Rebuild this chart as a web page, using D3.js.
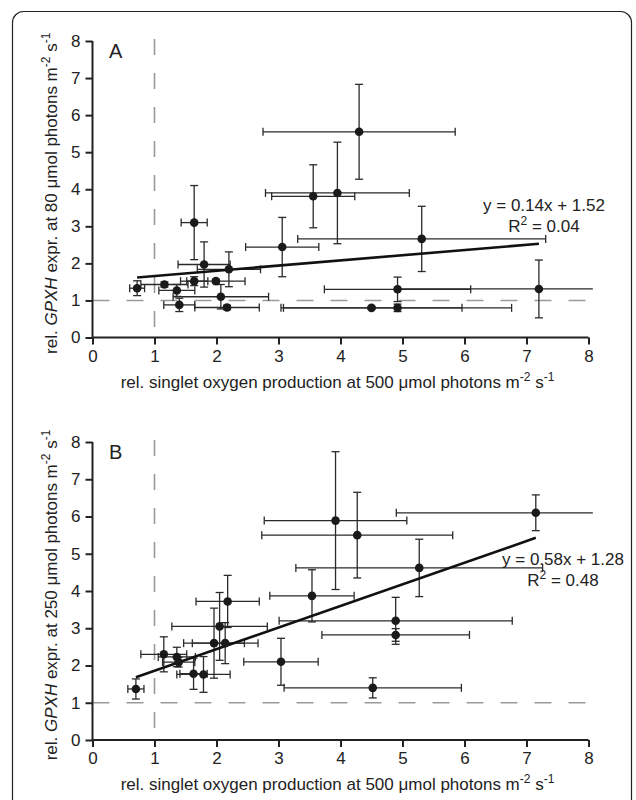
<!DOCTYPE html>
<html>
<head>
<meta charset="utf-8">
<script src="https://cdn.jsdelivr.net/npm/d3@7"></script>
<style>
  body { margin: 0; background: #fff; }
  svg { display: block; font-family: "Liberation Sans", Arial, sans-serif; }
  .tick text { font-size: 17px; fill: #222; font-family: "Liberation Sans", Arial, sans-serif; }
  .axis path, .axis line { stroke: #222; stroke-width: 2px; }
</style>
</head>
<body>
<div id="chart"></div>
<script>
// Panel A: GPXH expression at 80 umol photons (mean, sd)
var a_x = [0.72, 1.16, 1.36, 1.64, 1.99, 1.80, 2.20, 2.07, 1.40, 2.17, 1.64, 4.30, 3.56, 3.95, 3.06, 5.31, 7.20, 4.92, 4.50, 4.92];
var a_y = [1.33, 1.43, 1.27, 1.52, 1.52, 1.97, 1.84, 1.10, 0.88, 0.81, 3.10, 5.55, 3.81, 3.90, 2.44, 2.66, 1.31, 1.30, 0.80, 0.80];
var a_xerr = [0.12, 0.38, 0.29, 0.22, 0.47, 0.42, 0.51, 0.77, 0.25, 0.52, 0.21, 1.55, 0.67, 1.16, 0.59, 2.00, 2.28, 1.18, 1.46, 1.84];
var a_yerr = [0.20, 0.07, 0.16, 0.12, 0.05, 0.61, 0.47, 0.33, 0.18, 0.06, 1.00, 1.28, 0.85, 1.37, 0.80, 0.88, 0.78, 0.33, 0.04, 0.10];

// Panel B: GPXH expression at 250 umol photons (mean, sd)
var b_x = [0.70, 1.15, 1.36, 1.39, 1.63, 1.79, 1.96, 2.14, 2.05, 2.18, 3.04, 4.52, 7.15, 3.92, 4.27, 5.27, 3.54, 4.89, 4.89];
var b_y = [1.37, 2.30, 2.23, 2.09, 1.78, 1.76, 2.60, 2.60, 3.05, 3.72, 2.10, 1.40, 6.10, 5.89, 5.50, 4.62, 3.87, 3.20, 2.82];
var b_xerr = [0.13, 0.37, 0.30, 0.26, 0.22, 0.43, 0.49, 0.53, 0.77, 0.51, 0.60, 1.43, 2.25, 1.15, 1.54, 1.99, 0.68, 1.88, 1.19];
var b_yerr = [0.27, 0.47, 0.26, 0.13, 0.42, 0.48, 0.94, 0.55, 0.91, 0.70, 0.63, 0.27, 0.48, 1.85, 1.15, 0.77, 0.70, 0.63, 0.17];

// Linear fits as printed on the chart
var a_fit = [0.14, 1.52];
var b_fit = [0.58, 1.28];

var x_ticks = [0, 1, 2, 3, 4, 5, 6, 7, 8];
var y_ticks = [0, 1, 2, 3, 4, 5, 6, 7, 8];

(function () {
  "use strict";

  var w = 636, h = 800;
  var left = 92.5, right = 588.5;
  var x_max = 8.07; // error bars are cut just past the end of the axis
  var fs = 17; // main text size
  var fs_sup = 12; // superscripts

  var svg = d3.select("#chart").append("svg")
    .attr("width", w)
    .attr("height", h);

  // Rounded frame (bottom runs off the page)
  svg.append("rect")
    .attr("x", 12.5).attr("y", 11.5)
    .attr("width", 619).attr("height", 820)
    .attr("rx", 11)
    .attr("fill", "none")
    .attr("stroke", "#222")
    .attr("stroke-width", 1.2);

  var x = d3.scaleLinear().domain([0, 8]).range([left, right]);

  // Adds "m-2 s-1" with raised exponents to a text element
  function addUnits(t) {
    t.append("tspan").text("m");
    t.append("tspan").attr("dy", -7).attr("font-size", fs_sup).text("-2");
    t.append("tspan").attr("dy", 7).text(" s");
    t.append("tspan").attr("dy", -7).attr("font-size", fs_sup).text("-1");
  }

  function drawPanel(opt) {
    var y = d3.scaleLinear().domain([0, 8]).range([opt.bottom, opt.top]);
    var g = svg.append("g");

    // Reference lines at 1
    g.append("line")
      .attr("x1", x(1)).attr("x2", x(1))
      .attr("y1", y(8) - 2).attr("y2", y(0))
      .attr("stroke", "#9a9a9a").attr("stroke-width", 1.6)
      .attr("stroke-dasharray", "16,18");
    g.append("line")
      .attr("x1", x(0)).attr("x2", x(8))
      .attr("y1", y(1)).attr("y2", y(1))
      .attr("stroke", "#9a9a9a").attr("stroke-width", 1.6)
      .attr("stroke-dasharray", "17,17");

    // Axes
    g.append("g")
      .attr("class", "axis")
      .attr("transform", "translate(0," + opt.bottom + ")")
      .call(d3.axisBottom(x).tickValues(x_ticks).tickSize(7).tickPadding(5).tickFormat(d3.format("d")))
      .call(function (s) { s.select(".domain").attr("d", "M" + left + ",0H" + right); });
    g.append("g")
      .attr("class", "axis")
      .attr("transform", "translate(" + left + ",0)")
      .call(d3.axisLeft(y).tickValues(y_ticks).tickSize(7).tickPadding(5).tickFormat(d3.format("d")))
      .call(function (s) { s.select(".domain").attr("d", "M0," + opt.bottom + "V" + opt.top); });

    var pts = opt.xs.map(function (d, i) {
      return { x: d, y: opt.ys[i], ex: opt.xerr[i], ey: opt.yerr[i] };
    });
    var cap = 4;
    var bars = g.append("g")
      .attr("stroke", "#2a2a2a")
      .attr("stroke-width", 1.3)
      .attr("fill", "none");

    pts.forEach(function (p) {
      var x0 = p.x - p.ex, x1 = Math.min(p.x + p.ex, x_max);
      bars.append("line")
        .attr("x1", x(x0)).attr("x2", x(x1))
        .attr("y1", y(p.y)).attr("y2", y(p.y));
      bars.append("line")
        .attr("x1", x(x0)).attr("x2", x(x0))
        .attr("y1", y(p.y) - cap).attr("y2", y(p.y) + cap);
      if (p.x + p.ex <= x_max) {
        bars.append("line")
          .attr("x1", x(x1)).attr("x2", x(x1))
          .attr("y1", y(p.y) - cap).attr("y2", y(p.y) + cap);
      }
      var y0 = Math.max(p.y - p.ey, 0), y1 = p.y + p.ey;
      bars.append("line")
        .attr("x1", x(p.x)).attr("x2", x(p.x))
        .attr("y1", y(y0)).attr("y2", y(y1));
      [y0, y1].forEach(function (v) {
        bars.append("line")
          .attr("x1", x(p.x) - cap).attr("x2", x(p.x) + cap)
          .attr("y1", y(v)).attr("y2", y(v));
      });
    });

    // Regression line over the data range
    var ext = d3.extent(opt.xs);
    g.append("line")
      .attr("x1", x(ext[0])).attr("y1", y(opt.fit[0] * ext[0] + opt.fit[1]))
      .attr("x2", x(ext[1])).attr("y2", y(opt.fit[0] * ext[1] + opt.fit[1]))
      .attr("stroke", "#111").attr("stroke-width", 2.6);

    g.append("g").selectAll("circle")
      .data(pts)
      .enter()
      .append("circle")
      .attr("cx", function (d) { return x(d.x); })
      .attr("cy", function (d) { return y(d.y); })
      .attr("r", 4.3)
      .attr("fill", "#1a1a1a");

    // Equation
    var eq = g.append("text")
      .attr("text-anchor", "middle")
      .attr("font-size", fs)
      .attr("fill", "#222");
    eq.append("tspan")
      .attr("x", opt.eq_x).attr("y", opt.eq_y)
      .text("y = " + opt.fit[0].toFixed(2) + "x + " + opt.fit[1].toFixed(2));
    var r2 = eq.append("tspan")
      .attr("x", opt.eq_x).attr("y", opt.eq_y + 21);
    r2.append("tspan").text("R");
    r2.append("tspan").attr("dy", -7).attr("font-size", fs_sup).text("2");
    r2.append("tspan").attr("dy", 7).text(" = " + opt.r2);

    // Panel letter
    g.append("text")
      .attr("x", 109).attr("y", opt.top + 17)
      .attr("font-size", 20)
      .attr("fill", "#222")
      .text(opt.label);

    // X axis title
    var xt = g.append("text")
      .attr("x", (left + right) / 2 - 3).attr("y", opt.bottom + 50)
      .attr("text-anchor", "middle")
      .attr("font-size", fs)
      .attr("fill", "#222");
    xt.append("tspan").text("rel. singlet oxygen production at 500 \u03bcmol photons ");
    addUnits(xt);

    // Y axis title
    var yt = g.append("text")
      .attr("transform", "translate(57," + ((opt.top + opt.bottom) / 2 + 4) + ") rotate(-90)")
      .attr("text-anchor", "middle")
      .attr("font-size", fs)
      .attr("fill", "#222");
    yt.append("tspan").text("rel. ");
    yt.append("tspan").attr("font-style", "italic").text("GPXH");
    yt.append("tspan").text(" expr. at " + opt.light + " \u03bcmol photons ");
    addUnits(yt);
  }

  drawPanel({
    top: 41, bottom: 337.5, label: "A", light: "80",
    xs: a_x, ys: a_y, xerr: a_xerr, yerr: a_yerr,
    fit: a_fit, r2: "0.04", eq_x: 544, eq_y: 211
  });

  drawPanel({
    top: 442, bottom: 740, label: "B", light: "250",
    xs: b_x, ys: b_y, xerr: b_xerr, yerr: b_yerr,
    fit: b_fit, r2: "0.48", eq_x: 563, eq_y: 565
  });
})();
</script>
</body>
</html>
